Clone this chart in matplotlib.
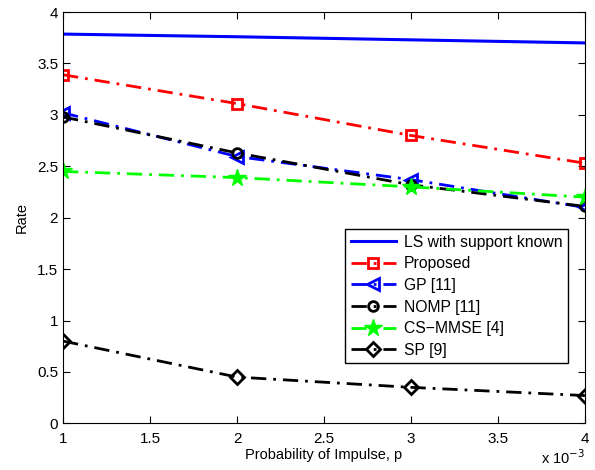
import numpy as np
import matplotlib
matplotlib.use('Agg')
import matplotlib.pyplot as plt
from matplotlib.ticker import FuncFormatter

plt.rcParams['font.family'] = ['Liberation Sans', 'DejaVu Sans']
plt.rc('font', size=11)

# data (p in units of 1e-3)
p = np.array([1, 2, 3, 4])
ls_known = [3.786, 3.76, 3.73, 3.70]
proposed = [3.39, 3.11, 2.80, 2.53]
gp = [3.02, 2.595, 2.37, 2.10]
nomp = [2.98, 2.63, 2.32, 2.11]
csmmse = [2.45, 2.39, 2.30, 2.20]
sp = [0.80, 0.45, 0.35, 0.27]

fig = plt.figure(figsize=(5.95, 4.7), dpi=100)
ax = fig.add_axes([0.106, 0.0993, 0.877, 0.875])

dd = (0, (5.5, 2.5, 1, 2.5))
ax.plot(p, ls_known, color='#0000ff', lw=2.2, linestyle='-', label='LS with support known')
ax.plot(p, proposed, color='#ff0000', lw=2, linestyle=dd, marker='s', ms=7,
        mfc='none', mew=2, label='Proposed')
ax.plot(p, gp, color='#0000ff', lw=2, linestyle=dd, marker='<', ms=8,
        mfc='none', mew=2, label='GP [11]')
ax.plot(p, nomp, color='black', lw=2, linestyle=dd, marker='o', ms=7,
        mfc='none', mew=2, label='NOMP [11]')
ax.plot(p, csmmse, color='#00ff00', lw=2, linestyle=dd, marker='*', ms=13,
        mfc='#00ff00', mew=1, label='CS\u2212MMSE [4]')
ax.plot(p, sp, color='black', lw=2, linestyle=dd, marker='D', ms=7,
        mfc='none', mew=2, label='SP [9]')

ax.set_xlim(1, 4)
ax.set_ylim(0, 4)
ax.set_xticks(np.arange(1, 4.01, 0.5))
ax.set_yticks(np.arange(0, 4.01, 0.5))
g = FuncFormatter(lambda v, pos: '%g' % v)
ax.xaxis.set_major_formatter(g)
ax.yaxis.set_major_formatter(g)
ax.tick_params(direction='in', top=True, right=True, length=5, labelsize=11)
ax.tick_params(axis='x', pad=6)
ax.set_xlabel('Probability of Impulse, p', fontsize=10.5, labelpad=2)
ax.set_ylabel('Rate', fontsize=10.5, labelpad=6)
fig.text(0.984, 0.006, r'x 10$^{-3}$', ha='right', va='bottom', fontsize=10.5)

ax.legend(loc='lower right', bbox_to_anchor=(0.983, 0.127), fontsize=11.3,
          handlelength=2.9, numpoints=1, fancybox=False, edgecolor='black',
          framealpha=1, borderpad=0.35, labelspacing=0.42, handletextpad=0.5)

fig.savefig('out.png', dpi=100)
